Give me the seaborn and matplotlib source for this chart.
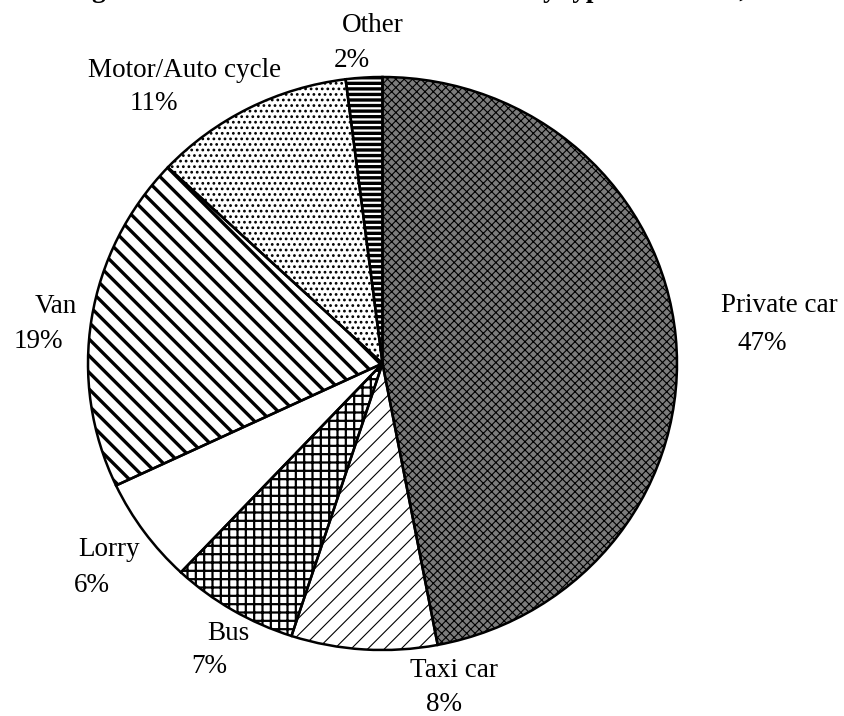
import matplotlib
matplotlib.use("Agg")
import matplotlib.pyplot as plt
import seaborn as sns

# data (clockwise from 12 o'clock)
vehicle_types = ['Private car', 'Taxi car', 'Bus', 'Lorry', 'Van', 'Motor/Auto cycle', 'Other']
shares = [47, 8, 7, 6, 19, 11, 2]
pct_labels = ['47%', '8%', '7%', '6%', '19%', '11%', '2%']

# fill styles for the black and white print look
faces = ['#7c7c7c', 'white', 'white', 'white', 'white', 'white', 'black']
hatches = ['xxxx', '//', '++', '', '\\\\', '...', '---']
hatch_cols = ['black', 'black', 'black', 'black', 'black', 'black', 'white']
hatch_lws = [0.8, 0.8, 1.6, 1.0, 2.4, 1.2, 1.6]

# label placement, pixels (centre x, baseline y) for name and percent
name_pos = [(779, 312), (454, 677), (228, 640), (109, 556), (56, 313), (185, 77), (373, 32)]
pct_pos = [(762, 350), (444, 711), (209, 673), (92, 592), (38, 348), (154, 110), (352, 67)]

W, H = 844, 716

sns.set_theme(style='white')
plt.rcParams['font.family'] = ['Liberation Serif', 'DejaVu Serif']

fig = plt.figure(figsize=(W / 100, H / 100), dpi=100)
ax = fig.add_axes([88 / W, (H - 650) / H, 589 / W, 573 / H])

# pass 1: fills and hatches
wedges, _ = ax.pie(shares, startangle=90, counterclock=False, radius=1,
                   colors=faces, wedgeprops=dict(linewidth=0))
for w, h, hc, hl in zip(wedges, hatches, hatch_cols, hatch_lws):
    w.set_hatch(h)
    w.set_edgecolor(hc)
    w.set_linewidth(0)
    if hasattr(w, 'set_hatch_linewidth'):
        w.set_hatch_linewidth(hl)

# pass 2: black outlines
ax.pie(shares, startangle=90, counterclock=False, radius=1,
       colors=['none'] * len(shares),
       wedgeprops=dict(edgecolor='black', linewidth=1.8, fill=False))

ax.set_aspect('auto')
ax.set_xlim(-1, 1)
ax.set_ylim(-1, 1)
ax.axis('off')

fs = 19.5
for name, pct, (nx, ny), (px, py) in zip(vehicle_types, pct_labels, name_pos, pct_pos):
    fig.text(nx / W, 1 - ny / H, name, ha='center', va='baseline', fontsize=fs, color='black')
    fig.text(px / W, 1 - py / H, pct, ha='center', va='baseline', fontsize=fs, color='black')

# title line cut off by the top edge of the scan, only descenders show
fig.text(528 / W, 1 + 3 / H, 'Figure 2: Vehicles involved in accidents ', ha='right', va='baseline',
         fontsize=fs, fontweight='bold', color='black')
fig.text(528 / W, 1 + 3 / H, 'by type of vehicles, 2002', ha='left', va='baseline',
         fontsize=fs, fontweight='bold', color='black')

fig.savefig('out.png', dpi=100, facecolor='white')
